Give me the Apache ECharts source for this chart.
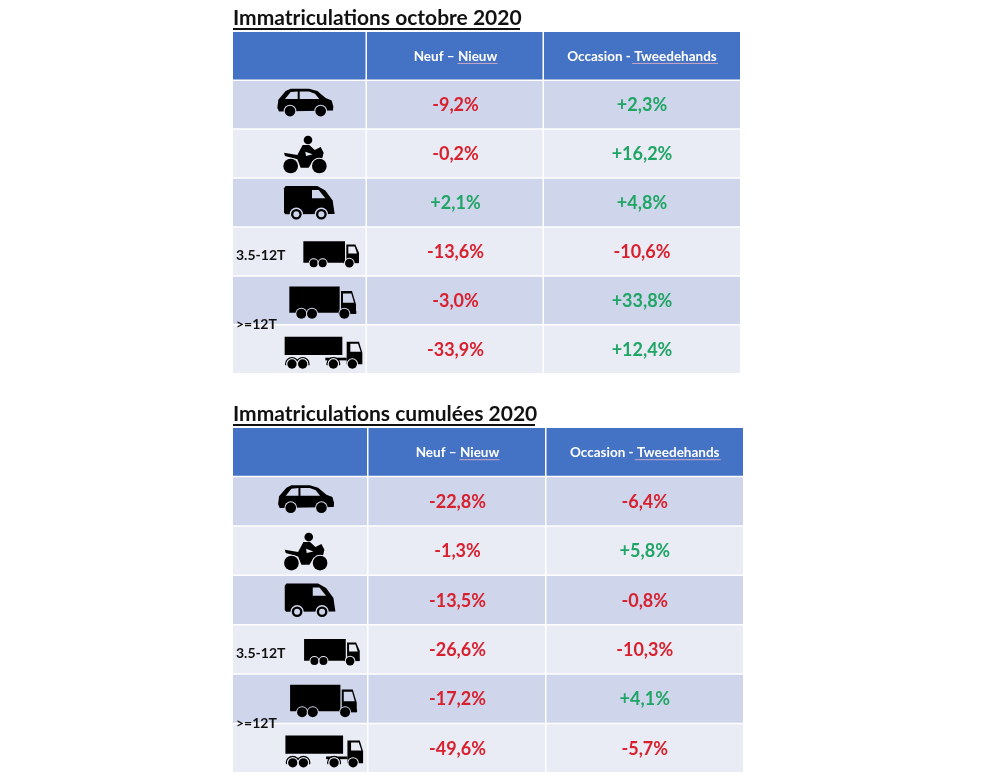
<!DOCTYPE html>
<html>
<head>
<meta charset="utf-8">
<style>
  html, body { margin: 0; padding: 0; background: #fff; }
  #chart { width: 1000px; height: 783px; }
</style>
<script src="https://cdn.jsdelivr.net/npm/echarts@6/dist/echarts.min.js"></script>
</head>
<body>
<div id="chart"></div>
<script>
const titles = ['Immatriculations octobre 2020', 'Immatriculations cumulées 2020'];
const headers = ['', 'Neuf – Nieuw', 'Occasion - Tweedehands'];
const vehicles = ['car', 'moto', 'van', 'truck', 'rigid', 'semi'];

const octoberNew = [-9.2, -0.2, 2.1, -13.6, -3.0, -33.9];
const octoberUsed = [2.3, 16.2, 4.8, -10.6, 33.8, 12.4];
const cumulNew = [-22.8, -1.3, -13.5, -26.6, -17.2, -49.6];
const cumulUsed = [-6.4, 5.8, -0.8, -10.3, 4.1, -5.7];

const BLUE = '#4472c4';
const ROW_DARK = '#cfd5ea';
const ROW_LIGHT = '#e9ebf5';
const RED = '#d9202e';
const GREEN = '#1fa565';
const FONT = 'Lato, "Open Sans", sans-serif';

function rowColor(row) {
  return row % 2 === 1 ? ROW_DARK : ROW_LIGHT;
}

function formatValue(v) {
  return (v > 0 ? '+' : '-') + Math.abs(v).toFixed(1).replace('.', ',') + '%';
}

// icon parts are drawn at 3x around the centre of the row, 'bg' = row colour
function poly(points, fill) { return { type: 'polygon', shape: { points }, style: { fill } }; }
function box(x, y, width, height, fill) { return { type: 'rect', shape: { x, y, width, height }, style: { fill } }; }
function disc(cx, cy, r, fill) { return { type: 'circle', shape: { cx, cy, r }, style: { fill } }; }
function wheel(cx, cy, r) { return [disc(cx, cy, r + 3, 'bg'), disc(cx, cy, r, '#000')]; }
function hollow(cx, cy, r) { return [disc(cx, cy, r, '#000'), disc(cx, cy, r - 7, 'bg')]; }
function fender(cx, cy, r) { return [disc(cx, cy, r, '#000'), disc(cx, cy, r - 4, 'bg')]; }

const icons = {
  car: [
    poly([[-68, 7], [-65, -17], [-43, -43], [-28, -50], [27, -50], [52, -43], [77, -22], [95, -15], [100, 3], [99, 15], [-63, 18]], '#000'),
    poly([[-45, -19], [-28, -40], [-7, -42], [-7, -19]], 'bg'),
    poly([[-1, -42], [27, -42], [45, -35], [58, -19], [-1, -19]], 'bg'),
    ...wheel(-30, 17, 16), ...wheel(62, 17, 16)
  ],
  moto: [
    disc(24, -43, 13, '#000'),
    poly([[-48, -5], [-8, 2], [8, -28], [28, -28], [44, -13], [62, -22], [71, -5], [66, 15], [38, 20], [26, 40], [2, 40], [-8, 15], [-45, 5]], '#000'),
    poly([[16, -8], [38, 0], [18, 5]], 'bg'),
    disc(-28, 35, 25, 'bg'), disc(58, 35, 25, 'bg'),
    disc(-28, 35, 22, '#000'), disc(58, 35, 22, '#000')
  ],
  van: [
    poly([[-43, -52], [52, -52], [76, -38], [98, -8], [104, 32], [-44, 33], [-48, 28], [-48, -45]], '#000'),
    poly([[36, -40], [56, -40], [76, -15], [36, -15]], 'bg'),
    disc(-11, 33, 20, 'bg'), disc(64, 33, 20, 'bg'),
    ...hollow(-11, 33, 16), ...hollow(64, 33, 16)
  ],
  truck: [
    box(10, -33, 125, 65, '#000'),
    box(130, 26, 46, 7, '#000'),
    poly([[139, -23], [166, -23], [177, 2], [177, 32], [139, 32]], '#000'),
    poly([[145, -17], [164, -17], [171, 4], [145, 4]], 'bg'),
    ...wheel(41, 33, 12), ...wheel(68, 33, 12), ...wheel(148, 33, 13)
  ],
  rigid: [
    box(-32, -44, 151, 79, '#000'),
    box(115, 30, 54, 8, '#000'),
    poly([[123, -30], [156, -30], [168, 10], [168, 38], [123, 38]], '#000'),
    poly([[129, -23], [154, -23], [162, 5], [129, 5]], 'bg'),
    ...wheel(4, 38, 15), ...wheel(36, 38, 15), ...wheel(133, 38, 15)
  ],
  semi: [
    box(-46, -40, 173, 55, '#000'),
    box(76, 23, 64, 8, '#000'),
    poly([[140, -25], [177, -25], [187, 8], [187, 43], [140, 43]], '#000'),
    poly([[151, -19], [174, -19], [182, 5], [151, 5]], 'bg'),
    ...fender(-24, 42, 21), ...fender(8, 42, 21), ...fender(100, 42, 21),
    box(-50, 46, 172, 20, 'bg'),
    ...wheel(-24, 42, 14), ...wheel(8, 42, 14), ...wheel(100, 42, 14), ...wheel(157, 42, 14)
  ]
};

function paintIcon(parts, fill) {
  return parts.map(p => Object.assign({}, p, { style: { fill: p.style.fill === 'bg' ? fill : p.style.fill } }));
}

// one table: layout comes in, marks are placed through its axes
function buildTable(index, layout, newValues, usedValues) {
  const cells = [];
  headers.forEach((h, c) => cells.push([c, 0, h]));
  vehicles.forEach((name, r) => {
    cells.push([0, r + 1, '']);
    cells.push([1, r + 1, formatValue(newValues[r])]);
    cells.push([2, r + 1, formatValue(usedValues[r])]);
  });

  const renderCell = (params, api) => {
    const c = api.value(0);
    const r = api.value(1);
    const label = cells[params.dataIndex][2];
    const bandH = api.size([0, 1])[1];
    const mid = api.coord([0, r])[1];
    const x0 = api.coord([layout.edges[c], r])[0];
    const x1 = api.coord([layout.edges[c + 1], r])[0];
    const children = [{
      type: 'rect',
      shape: { x: x0, y: mid - bandH / 2, width: x1 - x0 - (c < 2 ? 1.5 : 0), height: bandH - 1.5 },
      style: { fill: r === 0 ? BLUE : rowColor(r) }
    }];
    const cx = (x0 + x1) / 2;
    if (r === 0 && label) {
      children.push({
        type: 'text',
        style: { x: cx, y: mid, text: label, fill: '#fff', font: 'bold 13.5px ' + FONT, align: 'center', verticalAlign: 'middle' }
      });
      // spell-check underline under the Dutch word
      const under = c === 1 ? [cx + 2, cx + 42] : [cx - 10, cx + 76];
      children.push({
        type: 'line',
        shape: { x1: under[0], y1: mid + 7, x2: under[1], y2: mid + 7 },
        style: { stroke: '#c9a6c4', lineWidth: 1 }
      });
    } else if (label) {
      children.push({
        type: 'text',
        style: {
          x: cx, y: mid, text: label,
          fill: label[0] === '+' ? GREEN : RED,
          font: 'bold 18px ' + FONT, align: 'center', verticalAlign: 'middle'
        }
      });
    }
    return { type: 'group', children };
  };

  const renderIcon = (params, api) => {
    const r = api.value(1);
    const mid = api.coord([0, r])[1];
    const cx = api.coord([layout.edges[1] / 2, r])[0];
    return {
      type: 'group', x: cx, y: mid, scaleX: 1 / 3, scaleY: 1 / 3,
      children: paintIcon(icons[vehicles[r - 1]], rowColor(r))
    };
  };

  // weight classes sit on top of the first column
  const renderWeight = (params, api) => {
    const r = api.value(1);
    const text = r === 4 ? '3.5-12T' : '>=12T';
    const bandH = api.size([0, 1])[1];
    const y = api.coord([0, r])[1] + (r === 4 ? 3 : bandH / 2 - 1);
    return {
      type: 'text',
      style: { x: api.coord([3, r])[0], y, text, fill: '#111', font: 'bold 14px ' + FONT, align: 'left', verticalAlign: 'middle' }
    };
  };

  const axes = { xAxisIndex: index, yAxisIndex: index, coordinateSystem: 'cartesian2d', type: 'custom', silent: true };
  return {
    grid: { left: layout.left, top: layout.top, width: layout.edges[3], height: layout.height },
    xAxis: { gridIndex: index, type: 'value', min: 0, max: layout.edges[3], show: false },
    yAxis: { gridIndex: index, type: 'category', inverse: true, show: false, data: [''].concat(vehicles) },
    title: {
      text: titles[index], left: layout.left, top: layout.top - 24,
      textStyle: { fontFamily: FONT, fontWeight: 'bold', fontSize: layout.titleSize, color: '#111' }, padding: 0
    },
    underline: {
      type: 'line', silent: true,
      shape: { x1: layout.left, y1: layout.top - 3, x2: layout.left + layout.titleWidth, y2: layout.top - 3 },
      style: { stroke: '#111', lineWidth: 2 }
    },
    series: [
      Object.assign({}, axes, { data: cells.map(c => [c[0], c[1]]), renderItem: renderCell, encode: { x: 0, y: 1 }, clip: false }),
      Object.assign({}, axes, { data: vehicles.map((v, r) => [0, r + 1]), renderItem: renderIcon, encode: { x: 0, y: 1 }, clip: false, z: 3 }),
      Object.assign({}, axes, { data: [[0, 4], [0, 5]], renderItem: renderWeight, encode: { x: 0, y: 1 }, clip: false, z: 4 })
    ]
  };
}

const first = buildTable(0, { left: 233, top: 32, height: 342.5, edges: [0, 134, 311, 507], titleSize: 21, titleWidth: 287 }, octoberNew, octoberUsed);
const second = buildTable(1, { left: 233, top: 428, height: 345.5, edges: [0, 135.5, 313.5, 510], titleSize: 21, titleWidth: 302 }, cumulNew, cumulUsed);

const chart = echarts.init(document.getElementById('chart'));
chart.setOption({
  animation: false,
  backgroundColor: '#fff',
  title: [first.title, second.title],
  grid: [first.grid, second.grid],
  xAxis: [first.xAxis, second.xAxis],
  yAxis: [first.yAxis, second.yAxis],
  graphic: [first.underline, second.underline],
  series: first.series.concat(second.series)
});
</script>
</body>
</html>
